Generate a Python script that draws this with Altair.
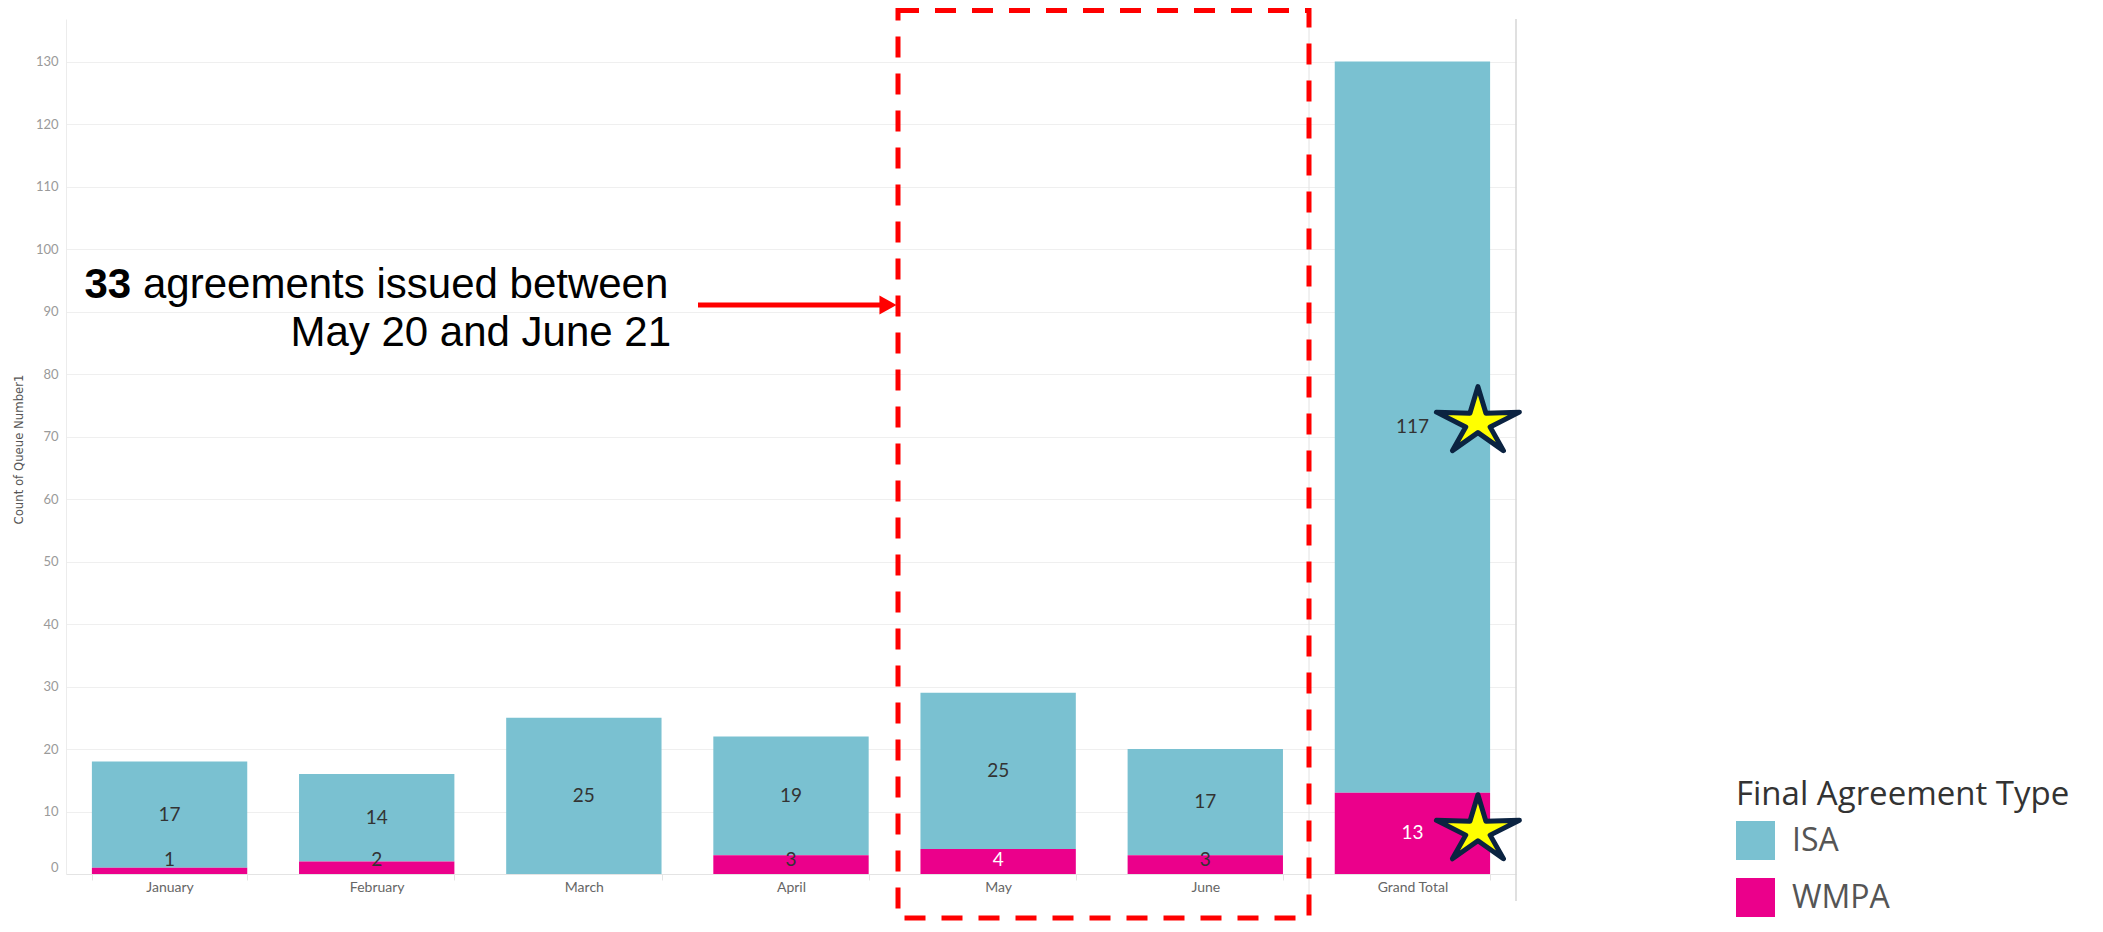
import altair as alt
import pandas as pd

# ---- data ----
months = ["January", "February", "March", "April", "May", "June", "Grand Total"]
isa_counts = [17, 14, 25, 19, 25, 17, 117]
wmpa_counts = [1, 2, 0, 3, 4, 3, 13]
agreement_types = ["ISA", "WMPA"]
type_colors = ["#7AC1D1", "#EB008B"]
y_ticks = [0, 10, 20, 30, 40, 50, 60, 70, 80, 90, 100, 110, 120, 130]

# star annotations (placed on the Grand Total bar)
star_months = ["Grand Total", "Grand Total"]
star_values = [72.3, 7.0]

rows = []
for m, a, w in zip(months, isa_counts, wmpa_counts):
    rows.append({"month": m, "type": "ISA", "count": a})
    rows.append({"month": m, "type": "WMPA", "count": w})
df = pd.DataFrame(rows)
stars_df = pd.DataFrame({"month": star_months, "value": star_values})
one = pd.DataFrame({"a": [0]})

W, H = 1450, 855
x_scale = alt.Scale(domain=months, paddingInner=0.25, paddingOuter=0.125)
y_scale = alt.Scale(domain=[0, 136.8], nice=False, zero=True)

x_axis = alt.Axis(
    labelAngle=0, labelFont="Lato", labelFontSize=14, labelColor="#666666",
    domainColor="#e4e4e4", tickColor="#e4e4e4", tickSize=6, tickBand="extent",
    labelPadding=0, grid=False, title=None,
)
y_axis = alt.Axis(
    values=y_ticks, title="Count of Queue Number1",
    titleFont="DejaVu Sans Condensed", titleFontSize=13, titleFontWeight="normal",
    titleColor="#555555", titleX=-48, titleY=430, titleAlign="center",
    titleBaseline="middle", titleAngle=270,
    labelFont="Lato", labelFontSize=13, labelColor="#9a9a9a", labelPadding=8,
    ticks=False, domainColor="#ececec", gridColor="#efefef", labelFlush=True,
)

order_expr = "datum.type === 'WMPA' ? 0 : 1"

bars = alt.Chart(df).transform_calculate(ord=order_expr).mark_bar(opacity=1).encode(
    x=alt.X("month:N", sort=months, scale=x_scale, axis=x_axis),
    y=alt.Y("count:Q", stack="zero", scale=y_scale, axis=y_axis),
    color=alt.Color(
        "type:N",
        scale=alt.Scale(domain=agreement_types, range=type_colors),
        legend=alt.Legend(
            title="Final Agreement Type", orient="none", legendX=1670, legendY=760,
            direction="vertical", padding=0, titleLimit=600, labelLimit=400,
            titleFont="Open Sans", titleFontSize=33, titleColor="#333333",
            titleFontWeight="normal", titlePadding=9,
            labelFont="Open Sans", labelFontSize=32, labelColor="#555555", labelOffset=17,
            symbolType="square", symbolSize=1521, symbolStrokeWidth=0, symbolOpacity=1,
            rowPadding=18,
        ),
    ),
    order=alt.Order("ord:Q", sort="ascending"),
)

labels = (
    alt.Chart(df)
    .transform_filter("datum.count > 0")
    .transform_calculate(ord=order_expr)
    .transform_stack(
        stack="count", groupby=["month"], as_=["y0", "y1"],
        sort=[alt.SortField("ord", order="ascending")], offset="zero",
    )
    .transform_calculate(mid="max((datum.y0 + datum.y1) / 2, 2.2)")
    .mark_text(font="Lato", fontSize=19, baseline="middle", align="center")
    .encode(
        x=alt.X("month:N", sort=months, scale=x_scale, axis=x_axis),
        y=alt.Y("mid:Q", scale=y_scale, axis=y_axis),
        text=alt.Text("count:Q"),
        color=alt.condition(
            "datum.type === 'WMPA' && datum.count >= 4",
            alt.value("#ffffff"), alt.value("#333333"),
        ),
    )
)

star_path = ("M0,-0.807 L0.182,-0.202 L0.943,-0.227 L0.277,0.111 L0.580,0.648 "
             "L0,0.239 L-0.580,0.648 L-0.277,0.111 L-0.943,-0.227 L-0.182,-0.202 Z")
stars = alt.Chart(stars_df).mark_point(
    shape=star_path, size=7744, filled=True, fill="#FFFF00", stroke="#0B2341",
    strokeWidth=5, strokeJoin="round", opacity=1, fillOpacity=1, strokeOpacity=1,
    xOffset=65.5,
).encode(
    x=alt.X("month:N", sort=months, scale=x_scale, axis=x_axis),
    y=alt.Y("value:Q", scale=y_scale, axis=y_axis),
)

divider = alt.Chart(one).mark_rule(color="#e2e2e2", strokeWidth=1).encode(
    x=alt.value(1243), y=alt.value(0), y2=alt.value(877)
)
right_border = alt.Chart(one).mark_rule(color="#d6d6d6", strokeWidth=1.5).encode(
    x=alt.value(W), y=alt.value(0), y2=alt.value(882)
)

red_box = alt.Chart(one).mark_rect(
    fill="transparent", stroke="#FF0000", strokeWidth=5, strokeDash=[21, 16]
).encode(x=alt.value(832), x2=alt.value(1243), y=alt.value(-8.5), y2=alt.value(899))

arrow_line = alt.Chart(one).mark_rule(color="#FF0000", strokeWidth=5).encode(
    x=alt.value(632), x2=alt.value(816), y=alt.value(286)
)
arrow_head = alt.Chart(one).mark_point(
    shape="M-0.9,-1 L0.9,0 L-0.9,1 Z", size=361, filled=True, fill="#FF0000",
    strokeWidth=0, opacity=1,
).encode(x=alt.value(822), y=alt.value(286))

txt_bold = alt.Chart(one).mark_text(
    text="33", font="Liberation Sans", fontSize=42, fontWeight="bold",
    align="left", baseline="alphabetic", color="#000000",
).encode(x=alt.value(18.5), y=alt.value(279))
txt_line1 = alt.Chart(one).mark_text(
    text="agreements issued between", font="Liberation Sans", fontSize=42,
    align="left", baseline="alphabetic", color="#000000",
).encode(x=alt.value(77), y=alt.value(279))
txt_line2 = alt.Chart(one).mark_text(
    text="May 20 and June 21", font="Liberation Sans", fontSize=42,
    align="right", baseline="alphabetic", color="#000000",
).encode(x=alt.value(605), y=alt.value(327))

chart = alt.layer(
    bars, divider, right_border, labels, stars, red_box,
    arrow_line, arrow_head, txt_bold, txt_line1, txt_line2,
).properties(
    width=W, height=H,
    autosize=alt.AutoSizeParams(type="none"),
    padding={"left": 58, "top": 11, "right": 579, "bottom": 48},
    background="#ffffff",
).configure_view(stroke="transparent")

chart.save("out.html", embed_options={"renderer": "svg", "actions": False})
